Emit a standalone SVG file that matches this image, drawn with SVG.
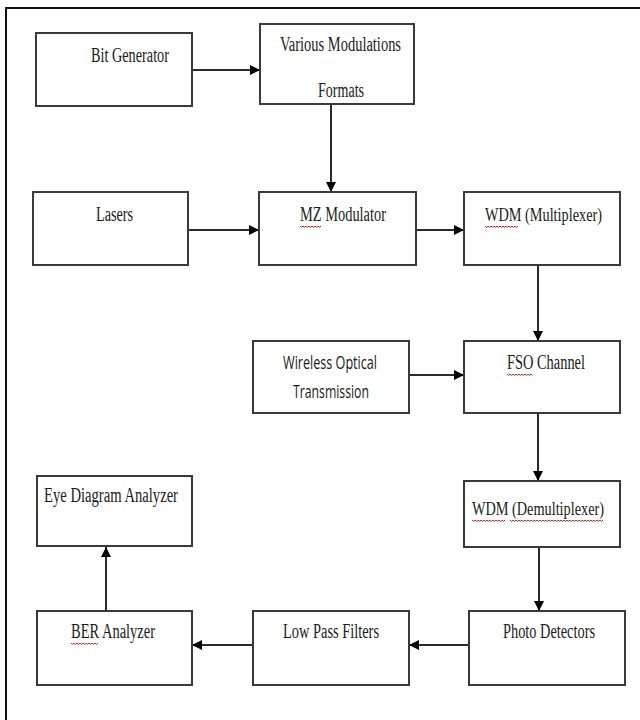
<svg xmlns="http://www.w3.org/2000/svg" width="640" height="720" viewBox="0 0 640 720">
<defs>
<style>
.box{fill:#fff;stroke:#3a3a3a;stroke-width:2}
.t{font-family:"Liberation Serif","DejaVu Serif",serif;font-size:20px;fill:#1a1a1a}
.w{font-size:18px}
.s{font-family:"Open Sans","Noto Sans",sans-serif;font-size:18px;fill:#1a1a1a}
.c{stroke:#2a2a2a;stroke-width:2;fill:none}
.sq{stroke:#d02020;stroke-width:1;fill:none}
</style>
<marker id="ah" viewBox="0 0 10 10" refX="10" refY="5" markerWidth="10" markerHeight="10" markerUnits="userSpaceOnUse" orient="auto">
<path d="M0,0 L10,5 L0,10 z" fill="#000"/>
</marker>
</defs>
<rect x="0" y="0" width="640" height="720" fill="#fff"/>
<rect x="6" y="8" width="660" height="740" fill="none" stroke="#111" stroke-width="2"/>

<g id="connectors">
<line class="c" x1="192" y1="70" x2="260" y2="70" marker-end="url(#ah)"/>
<line class="c" x1="331" y1="104" x2="331" y2="192" marker-end="url(#ah)"/>
<line class="c" x1="188" y1="230" x2="259" y2="230" marker-end="url(#ah)"/>
<line class="c" x1="416" y1="230" x2="464" y2="230" marker-end="url(#ah)"/>
<line class="c" x1="538" y1="265" x2="538" y2="341" marker-end="url(#ah)"/>
<line class="c" x1="409" y1="375" x2="464" y2="375" marker-end="url(#ah)"/>
<line class="c" x1="538" y1="413" x2="538" y2="481" marker-end="url(#ah)"/>
<line class="c" x1="539" y1="547" x2="539" y2="611" marker-end="url(#ah)"/>
<line class="c" x1="469" y1="645" x2="409" y2="645" marker-end="url(#ah)"/>
<line class="c" x1="253" y1="645" x2="192" y2="645" marker-end="url(#ah)"/>
<line class="c" x1="106" y1="611" x2="106" y2="547" marker-end="url(#ah)"/>
</g>

<g id="bit-generator">
<rect class="box" x="36" y="33" width="156" height="73"/>
<text class="t" x="91" y="62" textLength="78" lengthAdjust="spacingAndGlyphs">Bit Generator</text>
</g>
<g id="various-modulations">
<rect class="box" x="260" y="24" width="154" height="80"/>
<text class="t" x="280" y="51" textLength="121" lengthAdjust="spacingAndGlyphs">Various Modulations</text>
<text class="t" x="318" y="97" textLength="46" lengthAdjust="spacingAndGlyphs">Formats</text>
</g>
<g id="lasers">
<rect class="box" x="33" y="192" width="155" height="73"/>
<text class="t" x="96" y="221" textLength="37" lengthAdjust="spacingAndGlyphs">Lasers</text>
</g>
<g id="mz-modulator">
<rect class="box" x="259" y="192" width="157" height="73"/>
<text class="t" x="300" y="221" textLength="86" lengthAdjust="spacingAndGlyphs">MZ Modulator</text>
</g>
<g id="wdm-mux">
<rect class="box" x="464" y="192" width="156" height="73"/>
<text class="t w" x="485" y="221" textLength="117" lengthAdjust="spacingAndGlyphs">WDM (Multiplexer)</text>
</g>
<g id="wireless">
<rect class="box" x="253" y="341" width="156" height="72"/>
<text class="s" x="283" y="369" textLength="94" lengthAdjust="spacingAndGlyphs">Wireless Optical</text>
<text class="s" x="293" y="398" textLength="76" lengthAdjust="spacingAndGlyphs">Transmission</text>
</g>
<g id="fso-channel">
<rect class="box" x="464" y="341" width="156" height="72"/>
<text class="t" x="507" y="369" textLength="78" lengthAdjust="spacingAndGlyphs">FSO Channel</text>
</g>
<g id="wdm-demux">
<rect class="box" x="464" y="481" width="156" height="66"/>
<text class="t w" x="472" y="515" textLength="132" lengthAdjust="spacingAndGlyphs">WDM (Demultiplexer)</text>
</g>
<g id="eye-diagram">
<rect class="box" x="37" y="476" width="155" height="70"/>
<text class="t" x="44" y="502" textLength="134" lengthAdjust="spacingAndGlyphs">Eye Diagram Analyzer</text>
</g>
<g id="ber-analyzer">
<rect class="box" x="37" y="611" width="155" height="74"/>
<text class="t" x="71" y="638" textLength="84" lengthAdjust="spacingAndGlyphs">BER Analyzer</text>
</g>
<g id="low-pass">
<rect class="box" x="253" y="611" width="156" height="74"/>
<text class="t" x="283" y="638" textLength="96" lengthAdjust="spacingAndGlyphs">Low Pass Filters</text>
</g>
<g id="photo-detectors">
<rect class="box" x="469" y="611" width="156" height="74"/>
<text class="t" x="503" y="638" textLength="92" lengthAdjust="spacingAndGlyphs">Photo Detectors</text>
</g>

<g id="spellcheck">
<path class="sq" d="M300,226 l1.5,1.5 l1.5,-1.5 l1.5,1.5 l1.5,-1.5 l1.5,1.5 l1.5,-1.5 l1.5,1.5 l1.5,-1.5 l1.5,1.5 l1.5,-1.5 l1.5,1.5 l1.5,-1.5 l1.5,1.5 l1.5,-1.5"/>
<path class="sq" d="M485,226 l1.5,1.5 l1.5,-1.5 l1.5,1.5 l1.5,-1.5 l1.5,1.5 l1.5,-1.5 l1.5,1.5 l1.5,-1.5 l1.5,1.5 l1.5,-1.5 l1.5,1.5 l1.5,-1.5 l1.5,1.5 l1.5,-1.5 l1.5,1.5 l1.5,-1.5 l1.5,1.5 l1.5,-1.5 l1.5,1.5 l1.5,-1.5 l1.5,1.5 l1.5,-1.5"/>
<path class="sq" d="M507,374 l1.5,1.5 l1.5,-1.5 l1.5,1.5 l1.5,-1.5 l1.5,1.5 l1.5,-1.5 l1.5,1.5 l1.5,-1.5 l1.5,1.5 l1.5,-1.5 l1.5,1.5 l1.5,-1.5 l1.5,1.5 l1.5,-1.5 l1.5,1.5 l1.5,-1.5 l1.5,1.5"/>
<path class="sq" d="M472,520 l1.5,1.5 l1.5,-1.5 l1.5,1.5 l1.5,-1.5 l1.5,1.5 l1.5,-1.5 l1.5,1.5 l1.5,-1.5 l1.5,1.5 l1.5,-1.5 l1.5,1.5 l1.5,-1.5 l1.5,1.5 l1.5,-1.5 l1.5,1.5 l1.5,-1.5 l1.5,1.5 l1.5,-1.5 l1.5,1.5 l1.5,-1.5 l1.5,1.5 l1.5,-1.5"/>
<path class="sq" d="M510,520 l1.5,1.5 l1.5,-1.5 l1.5,1.5 l1.5,-1.5 l1.5,1.5 l1.5,-1.5 l1.5,1.5 l1.5,-1.5 l1.5,1.5 l1.5,-1.5 l1.5,1.5 l1.5,-1.5 l1.5,1.5 l1.5,-1.5 l1.5,1.5 l1.5,-1.5 l1.5,1.5 l1.5,-1.5 l1.5,1.5 l1.5,-1.5 l1.5,1.5 l1.5,-1.5 l1.5,1.5 l1.5,-1.5 l1.5,1.5 l1.5,-1.5 l1.5,1.5 l1.5,-1.5 l1.5,1.5 l1.5,-1.5 l1.5,1.5 l1.5,-1.5 l1.5,1.5 l1.5,-1.5 l1.5,1.5 l1.5,-1.5 l1.5,1.5 l1.5,-1.5 l1.5,1.5 l1.5,-1.5 l1.5,1.5 l1.5,-1.5 l1.5,1.5 l1.5,-1.5 l1.5,1.5 l1.5,-1.5 l1.5,1.5 l1.5,-1.5 l1.5,1.5 l1.5,-1.5 l1.5,1.5 l1.5,-1.5 l1.5,1.5 l1.5,-1.5 l1.5,1.5 l1.5,-1.5 l1.5,1.5 l1.5,-1.5 l1.5,1.5 l1.5,-1.5 l1.5,1.5 l1.5,-1.5"/>
<path class="sq" d="M71,643 l1.5,1.5 l1.5,-1.5 l1.5,1.5 l1.5,-1.5 l1.5,1.5 l1.5,-1.5 l1.5,1.5 l1.5,-1.5 l1.5,1.5 l1.5,-1.5 l1.5,1.5 l1.5,-1.5 l1.5,1.5 l1.5,-1.5 l1.5,1.5 l1.5,-1.5 l1.5,1.5 l1.5,-1.5"/>
</g>
</svg>
